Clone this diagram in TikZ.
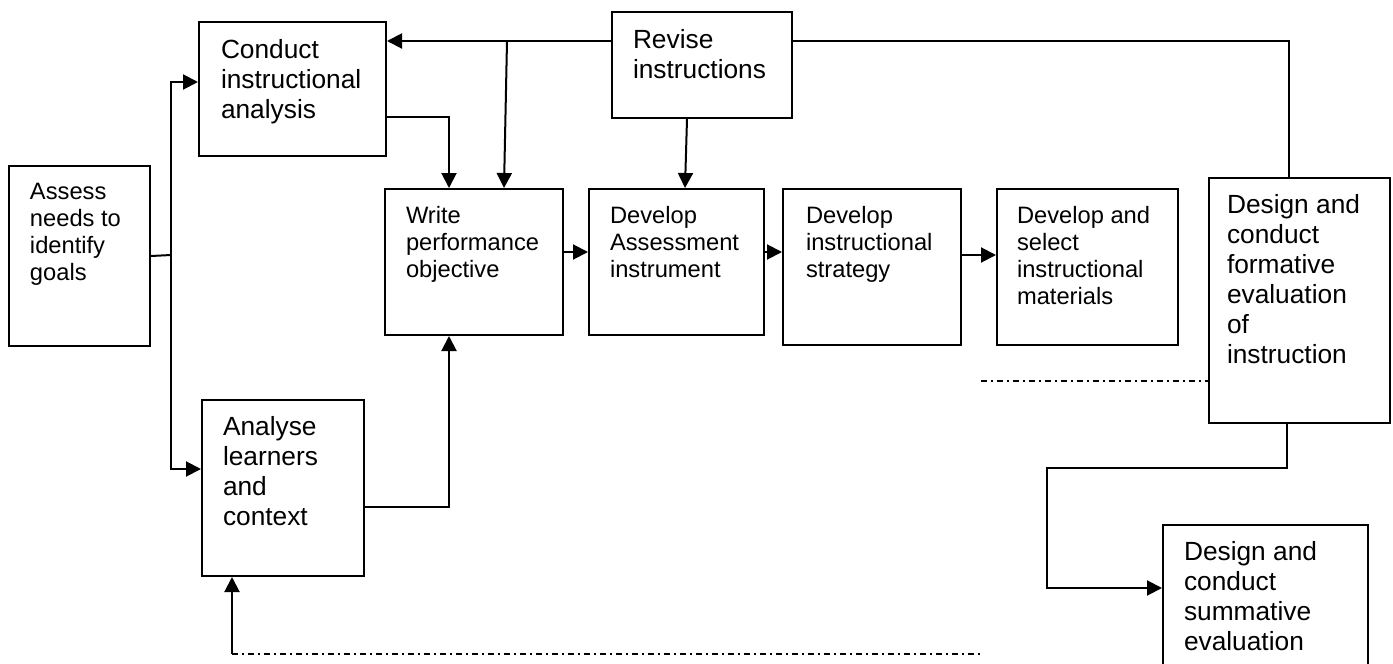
\documentclass[tikz,border=0pt]{standalone}
\usepackage{fontspec}
\setmainfont{Liberation Sans}
\usetikzlibrary{arrows.meta}
\newcommand\bigf{\fontsize{26.3pt}{30pt}\selectfont}
\newcommand\smallf{\fontsize{23.7pt}{27pt}\selectfont}
\newcommand\bxt[6]{\begin{minipage}[t][#2][t]{#1}#5\raggedright\leftskip=#3\relax\rule{0pt}{#4}#6\end{minipage}}
\tikzset{
  bx/.style={draw, line width=2pt, inner sep=0pt, anchor=north west},
  ln/.style={line width=2pt},
  arr/.style={line width=2pt, -{Triangle[length=15pt,width=15pt]}},
  dd/.style={line width=2pt, dash pattern=on 6pt off 4pt on 2pt off 4pt}
}
\begin{document}
\begin{tikzpicture}[x=1pt,y=-1pt]
\useasboundingbox (0,0) rectangle (1393,664);
% boxes
\node[bx] (assess) at (8,165) {\bxt{141pt}{180pt}{21pt}{33pt}{\smallf}{Assess\\needs to\\identify\\goals}};
\node[bx] (conduct) at (198,21) {\bxt{187pt}{134pt}{22pt}{36pt}{\bigf}{Conduct\\instructional\\analysis}};
\node[bx] (revise) at (611,11) {\bxt{180pt}{106pt}{21pt}{36pt}{\bigf}{Revise\\instructions}};
\node[bx] (write) at (384,188) {\bxt{178pt}{146pt}{21pt}{34pt}{\smallf}{Write\\performance\\objective}};
\node[bx] (assessment) at (588,188) {\bxt{175pt}{146pt}{21pt}{34pt}{\smallf}{Develop\\Assessment\\instrument}};
\node[bx] (strategy) at (782,188) {\bxt{178pt}{156pt}{23pt}{34pt}{\smallf}{Develop\\instructional\\strategy}};
\node[bx] (materials) at (996,188) {\bxt{181pt}{156pt}{20pt}{34pt}{\smallf}{Develop and\\select\\instructional\\materials}};
\node[bx] (formative) at (1208,177) {\bxt{181pt}{245pt}{18pt}{35pt}{\bigf}{Design and\\conduct\\formative\\evaluation\\of\\instruction}};
\node[bx] (analyse) at (201,399) {\bxt{162pt}{176pt}{21pt}{35pt}{\bigf}{Analyse\\learners\\and\\context}};
\node[bx] (summative) at (1162,524) {\bxt{205pt}{170pt}{21pt}{35pt}{\bigf}{Design and\\conduct\\summative\\evaluation}};
% helper coordinates
\coordinate (j) at (171,255);
\coordinate (h82) at (0,82);
\coordinate (h469) at (0,469);
\coordinate (h117) at (0,117);
\coordinate (v449) at (449,0);
\coordinate (h41) at (0,41);
\coordinate (b1) at (507,41);
\coordinate (v504) at (504,0);
\coordinate (v687) at (687,0);
\coordinate (v685) at (685,0);
\coordinate (v1289) at (1289,0);
\coordinate (v1287) at (1287,0);
\coordinate (h252) at (0,252);
\coordinate (h255) at (0,255);
\coordinate (h507) at (0,507);
\coordinate (k) at (1047,468);
\coordinate (h588) at (0,588);
\coordinate (d1) at (981,381);
\coordinate (d2) at (232,654);
\coordinate (d3) at (982,654);
% connectors
\draw[ln] (assess.east) -- (j);
\draw[arr] (j) |- (conduct.west |- h82);
\draw[arr] (j) |- (analyse.west |- h469);
\draw[arr] (conduct.east |- h117) -| (write.north -| v449);
\draw[arr] (revise.west |- h41) -- (conduct.east |- h41);
\draw[arr] (b1) -- (write.north -| v504);
\draw[arr] (revise.south -| v687) -- (assessment.north -| v685);
\draw[ln] (revise.east |- h41) -| (formative.north -| v1289);
\draw[arr] (write.east |- h252) -- (assessment.west |- h252);
\draw[arr] (assessment.east |- h252) -- (strategy.west |- h252);
\draw[arr] (strategy.east |- h255) -- (materials.west |- h255);
\draw[arr] (analyse.east |- h507) -| (write.south -| v449);
\draw[arr] (formative.south -| v1287) |- (k) |- (summative.west |- h588);
\draw[dd] (d1) -- (formative.west |- d1);
\draw[dd] (d2) -- (d3);
\draw[arr] (d2) -- (analyse.south -| d2);
\end{tikzpicture}
\end{document}
